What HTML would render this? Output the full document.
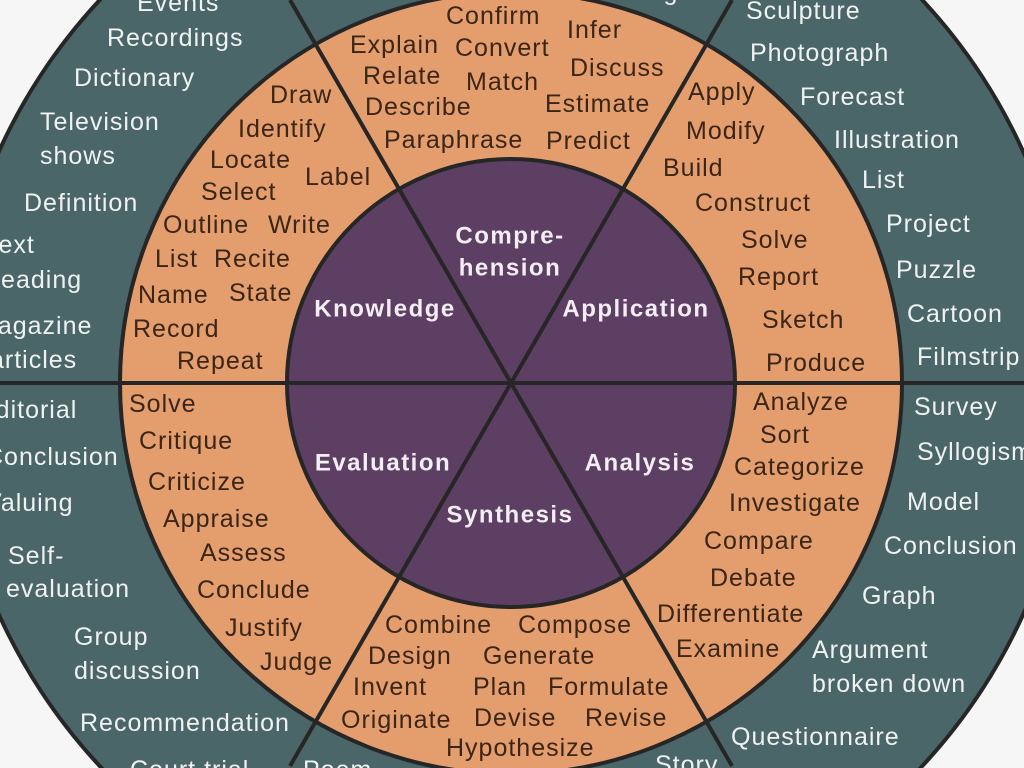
<!DOCTYPE html>
<html><head><meta charset="utf-8"><style>
html,body{margin:0;padding:0;background:#f6f6f6;width:1024px;height:768px;overflow:hidden;}
svg{display:block}
.t{font-family:"Liberation Sans",sans-serif;font-size:25px;letter-spacing:1px;fill:#f0f2f1;dominant-baseline:central}
.o{font-family:"Liberation Sans",sans-serif;font-size:25px;letter-spacing:1px;fill:#3a2516;dominant-baseline:central}
.p{font-family:"Liberation Sans",sans-serif;font-size:24px;letter-spacing:1.5px;font-weight:bold;fill:#f4eef4;dominant-baseline:central;text-anchor:middle}
</style></head><body>
<svg width="1024" height="768" viewBox="0 0 1024 768" xmlns="http://www.w3.org/2000/svg">
<rect width="1024" height="768" fill="#f6f6f6"/>
<circle cx="511" cy="383" r="562" fill="#4b6669" stroke="#262626" stroke-width="4"/>
<circle cx="511" cy="383" r="391" fill="#e49e6e" stroke="#262626" stroke-width="4"/>
<circle cx="511" cy="383" r="224" fill="#5c3f62" stroke="#262626" stroke-width="4"/>
<g stroke="#262626" stroke-width="4">
<line x1="-50" y1="383" x2="1074" y2="383"/>
<line x1="290" y1="0" x2="732" y2="766"/>
<line x1="732" y1="0" x2="290" y2="766"/>
</g>
<g class="t">
<text x="137" y="3">Events</text>
<text x="107" y="38">Recordings</text>
<text x="74" y="78">Dictionary</text>
<text x="40" y="122">Television</text>
<text x="40" y="156">shows</text>
<text x="24" y="203">Definition</text>
<text x="-15" y="245">Text</text>
<text x="-18" y="280">Reading</text>
<text x="-24" y="326">Magazine</text>
<text x="-10" y="360">articles</text>
<text x="-22" y="410">Editorial</text>
<text x="-15" y="457">Conclusion</text>
<text x="-15" y="503">Valuing</text>
<text x="8" y="556">Self-</text>
<text x="6" y="589">evaluation</text>
<text x="74" y="637">Group</text>
<text x="74" y="671">discussion</text>
<text x="80" y="723">Recommendation</text>
<text x="130" y="770">Court trial</text>
<text x="303" y="770">Poem</text>
<text x="328" y="-8">Cartoon</text>
<text x="580" y="-8">Painting</text>
<text x="746" y="11">Sculpture</text>
<text x="750" y="53">Photograph</text>
<text x="800" y="97">Forecast</text>
<text x="834" y="140">Illustration</text>
<text x="862" y="180">List</text>
<text x="886" y="224">Project</text>
<text x="896" y="270">Puzzle</text>
<text x="907" y="314">Cartoon</text>
<text x="917" y="357">Filmstrip</text>
<text x="914" y="407">Survey</text>
<text x="917" y="452">Syllogism</text>
<text x="907" y="502">Model</text>
<text x="884" y="546">Conclusion</text>
<text x="862" y="596">Graph</text>
<text x="812" y="650">Argument</text>
<text x="812" y="684">broken down</text>
<text x="731" y="737">Questionnaire</text>
<text x="655" y="765">Story</text>
</g>
<g class="o">
<text x="270" y="95">Draw</text>
<text x="238" y="129">Identify</text>
<text x="210" y="160">Locate</text>
<text x="305" y="177">Label</text>
<text x="201" y="192">Select</text>
<text x="163" y="225">Outline</text>
<text x="268" y="225">Write</text>
<text x="155" y="259">List</text>
<text x="214" y="259">Recite</text>
<text x="138" y="295">Name</text>
<text x="229" y="293">State</text>
<text x="133" y="329">Record</text>
<text x="177" y="361">Repeat</text>
<text x="446" y="16">Confirm</text>
<text x="567" y="30">Infer</text>
<text x="350" y="45">Explain</text>
<text x="455" y="48">Convert</text>
<text x="570" y="68">Discuss</text>
<text x="363" y="76">Relate</text>
<text x="466" y="82">Match</text>
<text x="365" y="107">Describe</text>
<text x="545" y="104">Estimate</text>
<text x="384" y="140">Paraphrase</text>
<text x="546" y="141">Predict</text>
<text x="688" y="92">Apply</text>
<text x="686" y="131">Modify</text>
<text x="663" y="168">Build</text>
<text x="695" y="203">Construct</text>
<text x="741" y="240">Solve</text>
<text x="738" y="277">Report</text>
<text x="762" y="320">Sketch</text>
<text x="766" y="363">Produce</text>
<text x="753" y="402">Analyze</text>
<text x="760" y="435">Sort</text>
<text x="734" y="467">Categorize</text>
<text x="729" y="503">Investigate</text>
<text x="704" y="541">Compare</text>
<text x="710" y="578">Debate</text>
<text x="657" y="614">Differentiate</text>
<text x="676" y="649">Examine</text>
<text x="385" y="625">Combine</text>
<text x="518" y="625">Compose</text>
<text x="368" y="656">Design</text>
<text x="483" y="656">Generate</text>
<text x="353" y="687">Invent</text>
<text x="473" y="687">Plan</text>
<text x="548" y="687">Formulate</text>
<text x="341" y="720">Originate</text>
<text x="474" y="718">Devise</text>
<text x="585" y="718">Revise</text>
<text x="446" y="748">Hypothesize</text>
<text x="129" y="404">Solve</text>
<text x="139" y="441">Critique</text>
<text x="148" y="482">Criticize</text>
<text x="163" y="519">Appraise</text>
<text x="200" y="553">Assess</text>
<text x="197" y="590">Conclude</text>
<text x="225" y="628">Justify</text>
<text x="260" y="662">Judge</text>
</g>
<g class="p">
<text x="510" y="236">Compre-</text>
<text x="510" y="268">hension</text>
<text x="385" y="309">Knowledge</text>
<text x="636" y="309">Application</text>
<text x="383" y="463">Evaluation</text>
<text x="640" y="463">Analysis</text>
<text x="510" y="515">Synthesis</text>
</g>
</svg>
</body></html>
